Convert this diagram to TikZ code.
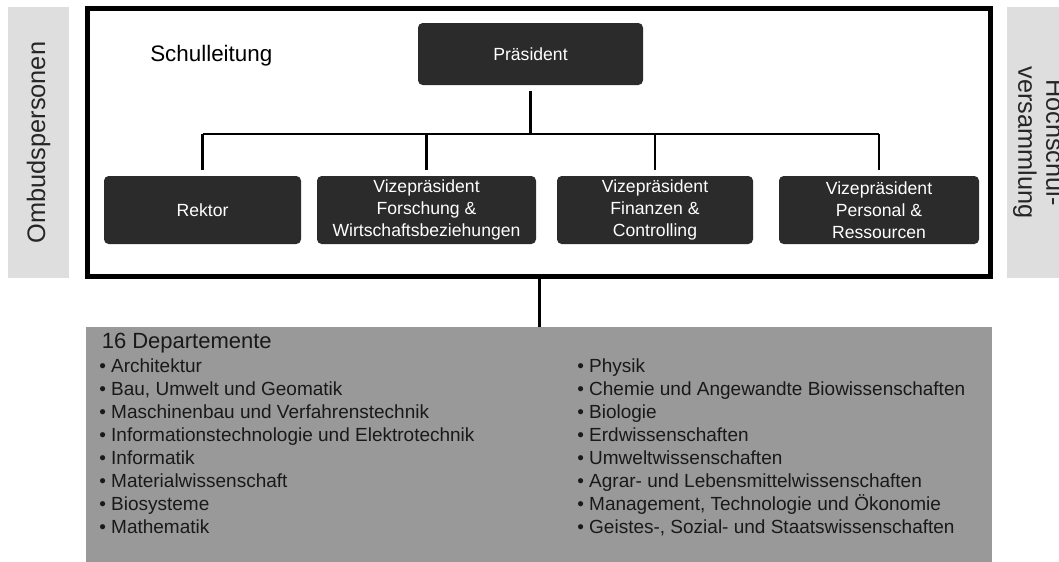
\documentclass[tikz,border=0pt]{standalone}
\usepackage{fontspec}
\setmainfont{Liberation Sans}
\usetikzlibrary{positioning}
\definecolor{boxdark}{RGB}{43,43,43}
\definecolor{sidegray}{RGB}{222,222,222}
\definecolor{deptgray}{RGB}{153,153,153}

\begin{document}
\begin{tikzpicture}[x=0.75pt,y=-0.75pt,
  amt/.style={fill=boxdark, rounded corners=3.5pt, text=white, align=center, minimum height=51pt, inner sep=0pt, font=\fontsize{13.2}{16.3}\selectfont},
  seite/.style={fill=sidegray, minimum width=203.25pt, align=center, inner sep=0pt, text=black!85, font=\fontsize{19}{21}\selectfont},
  drop/.style={line width=2pt},
  liste/.style={anchor=base west, align=left, inner sep=0pt, text=black!90, font=\fontsize{14.25}{17.25}\selectfont}]
\useasboundingbox (0,0) rectangle (1059,561);
\node[seite, rotate=90, minimum height=45.75pt] (ombuds) at (38.5,142.5) {Ombudspersonen};
\node[seite, rotate=-90, minimum height=48pt] (hsv) at (1039,142.5) {Hochschul-\\versammlung};
\node[draw, line width=3.75pt, minimum width=677.25pt, minimum height=201pt] (schulleitung) at (539,142.5) {};
\node[anchor=base west, inner sep=0pt, font=\fontsize{16.8}{20}\selectfont] (sltext) at (150,61.5) {Schulleitung};
\node[amt, minimum width=168.75pt, minimum height=46.5pt] (praesident) at (530.5,54) {Präsident};
\node[amt, minimum width=147.75pt] (rektor) at (202.5,210) {Rektor};
\node[amt, minimum width=164.25pt] (forschung) at (426.5,210) {Vizepräsident\\Forschung \&\\Wirtschaftsbeziehungen};
\node[amt, minimum width=147pt] (finanzen) at (655,210) {Vizepräsident\\Finanzen \&\\Controlling};
\node[amt, minimum width=150pt] (personal) at (879,210) {Vizepräsident\\Personal \&\\Ressourcen};
\coordinate (bus) at (530,134);
\draw[drop, shorten <=4pt] (praesident.south) -- (praesident.south |- bus);
\draw[line width=1.5pt] (rektor.north |- bus) -- (personal.north |- bus);
\foreach \n in {rektor,forschung,finanzen,personal}
  \draw[drop, shorten >=4.5pt] (\n.north |- bus) -- (\n.north);
\node[fill=deptgray, minimum width=679.5pt, minimum height=189.75pt] (departemente) at (539,453.5) {};
\draw[line width=2.25pt] (schulleitung.south) -- (departemente.north);
\node[anchor=base west, inner sep=0pt, text=black!90, font=\fontsize{16.5}{19}\selectfont] (titel) at (101.5,348.3) {16 Departemente};
\node[liste] (linkeliste) at (99,533.3) {• Architektur\\• Bau, Umwelt und Geomatik\\• Maschinenbau und Verfahrenstechnik\\• Informationstechnologie und Elektrotechnik\\• Informatik\\• Materialwissenschaft\\• Biosysteme\\• Mathematik};
\node[liste] (rechteliste) at (577,533.3) {• Physik\\• Chemie und Angewandte Biowissenschaften\\• Biologie\\• Erdwissenschaften\\• Umweltwissenschaften\\• Agrar- und Lebensmittelwissenschaften\\• Management, Technologie und Ökonomie\\• Geistes-, Sozial- und Staatswissenschaften};
\end{tikzpicture}
\end{document}
